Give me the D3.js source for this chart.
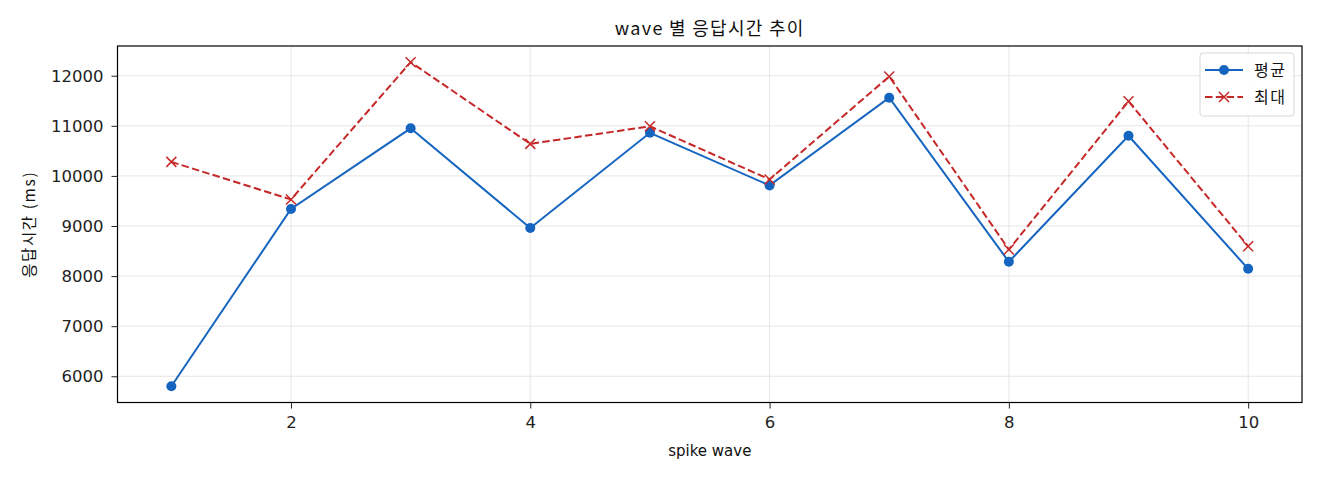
<!DOCTYPE html>
<html><head><meta charset="utf-8">
<script src="https://cdn.jsdelivr.net/npm/d3@7"></script>
<style>body{margin:0;background:#fff;} svg{display:block;font-family:"DejaVu Sans","Noto Sans CJK KR",sans-serif;}</style>
</head><body><svg id="c" width="1320" height="480"></svg>
<script>
const waves = [1,2,3,4,5,6,7,8,9,10];
const avgValues = [5800,9340,10950,8960,10860,9810,11560,8285,10800,8145];
const maxValues = [10280,9530,12270,10640,10990,9930,11985,8530,11490,8595];
const xTicks = [2,4,6,8,10];
const yTicks = [6000,7000,8000,9000,10000,11000,12000];
const seriesNames = ["평균","최대"];
const title = "wave 별 응답시간 추이";
const xLabel = "spike wave";
const yLabel = "응답시간 (ms)";

const KR = "\"Noto Sans CJK KR\",sans-serif";
const svg = d3.select("#c");
const L=117.5,R=1302,T=46,B=402.5;
const all = avgValues.concat(maxValues);
const ymin=d3.min(all), ymax=d3.max(all), pad=(ymax-ymin)*0.05;
const x = d3.scaleLinear().domain([0.55,10.45]).range([L,R]);
const y = d3.scaleLinear().domain([ymin-pad,ymax+pad]).range([B,T]);

const g = svg.append("g");
g.selectAll(".gx").data(xTicks).enter().append("line")
 .attr("x1",d=>x(d)).attr("x2",d=>x(d)).attr("y1",T).attr("y2",B)
 .attr("stroke","#e6e6e6").attr("stroke-width",1);
g.selectAll(".gy").data(yTicks).enter().append("line")
 .attr("y1",d=>y(d)).attr("y2",d=>y(d)).attr("x1",L).attr("x2",R)
 .attr("stroke","#e6e6e6").attr("stroke-width",1);

const xa = svg.append("g").attr("transform",`translate(0,${B})`)
 .call(d3.axisBottom(x).tickValues(xTicks).tickSize(6).tickPadding(8).tickFormat(d3.format("d")));
const ya = svg.append("g").attr("transform",`translate(${L},0)`)
 .call(d3.axisLeft(y).tickValues(yTicks).tickSize(6).tickPadding(8).tickFormat(d3.format("d")));
[xa,ya].forEach(a=>{a.select(".domain").remove();
 a.selectAll("text").attr("font-size",16.5).attr("fill","#222").attr("font-family","\"DejaVu Sans\",sans-serif");
 a.selectAll("line").attr("stroke","#222");});

const line = d3.line().x((d,i)=>x(waves[i])).y(d=>y(d));
svg.append("path").datum(avgValues).attr("d",line).attr("fill","none")
 .attr("stroke","#1565c0").attr("stroke-width",2);
svg.append("path").datum(maxValues).attr("d",line).attr("fill","none")
 .attr("stroke","#c62828").attr("stroke-width",2).attr("stroke-dasharray","7.5,3.3");
svg.selectAll(".dot").data(avgValues).enter().append("circle")
 .attr("cx",(d,i)=>x(waves[i])).attr("cy",d=>y(d)).attr("r",5).attr("fill","#1565c0");
const xm=5;
svg.selectAll(".xm").data(maxValues).enter().append("path")
 .attr("d",(d,i)=>{const cx=x(waves[i]),cy=y(d);return `M${cx-xm},${cy-xm}L${cx+xm},${cy+xm}M${cx-xm},${cy+xm}L${cx+xm},${cy-xm}`;})
 .attr("stroke","#c62828").attr("stroke-width",1.5).attr("fill","none");

svg.append("rect").attr("x",L).attr("y",T).attr("width",R-L).attr("height",B-T)
 .attr("fill","none").attr("stroke","#000").attr("stroke-width",1.2);

svg.append("text").attr("x",(L+R)/2).attr("y",35).attr("text-anchor","middle")
 .attr("font-family",KR).attr("font-size",18).attr("letter-spacing",1.3).attr("fill","#111").text(title);
svg.append("text").attr("x",(L+R)/2).attr("y",456).attr("text-anchor","middle")
 .attr("font-size",15).attr("fill","#111").text(xLabel);
svg.append("text").attr("transform",`translate(35,${(T+B)/2}) rotate(-90)`).attr("text-anchor","middle")
 .attr("font-family",KR).attr("font-size",15.5).attr("letter-spacing",1.6).attr("fill","#111").text(yLabel);

const lg = svg.append("g").attr("transform","translate(1200,53)");
lg.append("rect").attr("width",94).attr("height",63).attr("rx",3)
 .attr("fill","#fff").attr("fill-opacity",0.85).attr("stroke","#d8d8d8");
const rows=[{n:seriesNames[0],c:"#1565c0",dash:null,m:"o"},{n:seriesNames[1],c:"#c62828",dash:"7.5,3.3",m:"x"}];
rows.forEach((r,i)=>{
 const yy=17+i*27;
 lg.append("line").attr("x1",5).attr("x2",43).attr("y1",yy).attr("y2",yy)
  .attr("stroke",r.c).attr("stroke-width",2).attr("stroke-dasharray",r.dash);
 if(r.m==="o") lg.append("circle").attr("cx",24).attr("cy",yy).attr("r",5).attr("fill",r.c);
 else lg.append("path").attr("d",`M${24-xm},${yy-xm}L${24+xm},${yy+xm}M${24-xm},${yy+xm}L${24+xm},${yy-xm}`)
  .attr("stroke",r.c).attr("stroke-width",1.5);
 lg.append("text").attr("x",54).attr("y",yy+6).attr("font-family",KR).attr("font-size",16)
  .attr("letter-spacing",1.5).attr("fill","#111").text(r.n);
});
</script></body></html>
